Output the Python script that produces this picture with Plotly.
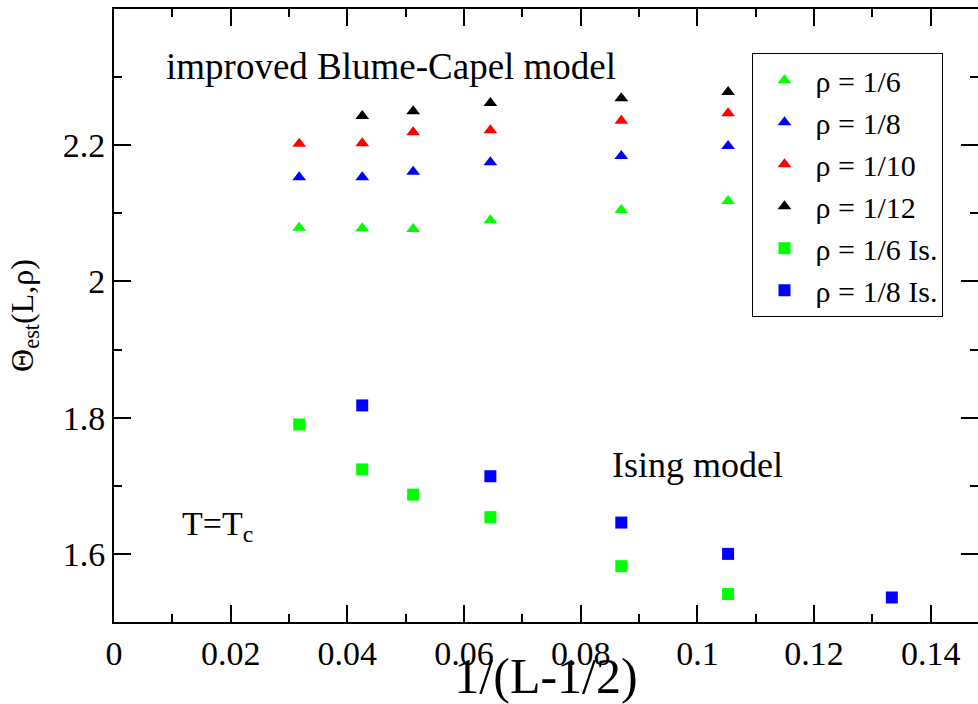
import plotly.graph_objects as go

# x = 1/(L-1/2)
x_bc = [1/31.5, 1/23.5, 1/19.5, 1/15.5, 1/11.5, 1/9.5]
x_bc12 = [1/23.5, 1/19.5, 1/15.5, 1/11.5, 1/9.5]
x_is6 = [1/31.5, 1/23.5, 1/19.5, 1/15.5, 1/11.5, 1/9.5]
x_is8 = [1/23.5, 1/15.5, 1/11.5, 1/9.5, 1/7.5]

rho6 = [2.079, 2.078, 2.077, 2.090, 2.105, 2.118]
rho8 = [2.153, 2.153, 2.161, 2.175, 2.184, 2.199]
rho10 = [2.202, 2.203, 2.219, 2.222, 2.236, 2.247]
rho12 = [2.243, 2.250, 2.262, 2.269, 2.278]
is6 = [1.790, 1.724, 1.687, 1.654, 1.582, 1.541]
is8 = [1.818, 1.714, 1.646, 1.600, 1.536]

names = ["ρ = 1/6", "ρ = 1/8", "ρ = 1/10", "ρ = 1/12", "ρ = 1/6 Is.", "ρ = 1/8 Is."]

FONT = "Times New Roman"
BLACK = "black"

fig = go.Figure()
series = [
    (x_bc, rho6, names[0], "#00ff00", "triangle-up"),
    (x_bc, rho8, names[1], "#0000ff", "triangle-up"),
    (x_bc, rho10, names[2], "#ff0000", "triangle-up"),
    (x_bc12, rho12, names[3], "#000000", "triangle-up"),
    (x_is6, is6, names[4], "#00ff00", "square"),
    (x_is8, is8, names[5], "#0000ff", "square"),
]
for xs, ys, nm, col, sym in series:
    fig.add_trace(go.Scatter(x=xs, y=ys, name=nm, mode="markers",
                             marker=dict(color=col, symbol=sym, size=12, line=dict(width=0))))

XR = [0, 0.1481]
YR = [1.5, 2.4]

blank = dict(showticklabels=False, showline=False, showgrid=False, zeroline=False,
             ticks="inside", tickwidth=2, tickcolor=BLACK)

fig.update_layout(
    template="none",
    width=978, height=704,
    margin=dict(l=114, r=0, t=9, b=82),
    paper_bgcolor="white", plot_bgcolor="white",
    font=dict(family=FONT, size=30, color=BLACK),
    xaxis=dict(range=XR, dtick=0.02, tick0=0, ticks="inside", ticklen=17, tickwidth=2,
               showline=True, linewidth=2, linecolor=BLACK, mirror="ticks",
               showgrid=False, zeroline=False, tickcolor=BLACK,
               tickfont=dict(family=FONT, size=34),
               title=dict(text="1/(L-1/2)", font=dict(family=FONT, size=50), standoff=8)),
    yaxis=dict(range=YR, dtick=0.2, tick0=0, ticks="inside", ticklen=17, tickwidth=2,
               showline=True, linewidth=2, linecolor=BLACK, mirror=False,
               showgrid=False, zeroline=False, tickcolor=BLACK,
               tickfont=dict(family=FONT, size=34),
               title=dict(text="Θ<sub>est</sub>(L,ρ)", font=dict(family=FONT, size=32), standoff=20)),
    # minor x ticks (bottom and top)
    xaxis2=dict(range=XR, overlaying="x", anchor="y", side="bottom", dtick=0.01, tick0=0,
                ticklen=8, mirror="ticks", **blank),
    # right major ticks
    yaxis2=dict(range=YR, overlaying="y", anchor="x", side="right", dtick=0.2, tick0=0,
                ticklen=17, **blank),
    # right minor ticks
    yaxis3=dict(range=YR, overlaying="y", anchor="x", side="right", dtick=0.1, tick0=0,
                ticklen=8, **blank),
    # left minor ticks
    yaxis4=dict(range=YR, overlaying="y", anchor="x", side="left", dtick=0.1, tick0=0,
                ticklen=8, **blank),
    legend=dict(x=0.739, y=0.928, xanchor="left", yanchor="top",
                bgcolor="white", bordercolor=BLACK, borderwidth=1, itemwidth=52,
                font=dict(family=FONT, size=30)),
    showlegend=True,
)
# invisible traces that activate the tick-only overlay axes
for xa, ya in [("x2", "y"), ("x", "y2"), ("x", "y3"), ("x", "y4")]:
    fig.add_trace(go.Scatter(x=[None], y=[None], xaxis=xa, yaxis=ya,
                             showlegend=False, hoverinfo="skip"))

annots = [
    ("improved Blume-Capel model", 0.0086, 2.3155, 37),
    ("Ising model", 0.0850, 1.7298, 36),
    ("T=T<sub>c</sub>", 0.01131, 1.641, 34),
]
for txt, ax, ay, fs in annots:
    fig.add_annotation(x=ax, y=ay, xref="x", yref="y", text=txt, showarrow=False,
                       xanchor="left", yanchor="middle",
                       font=dict(family=FONT, size=fs))

fig.write_html("out.html")
